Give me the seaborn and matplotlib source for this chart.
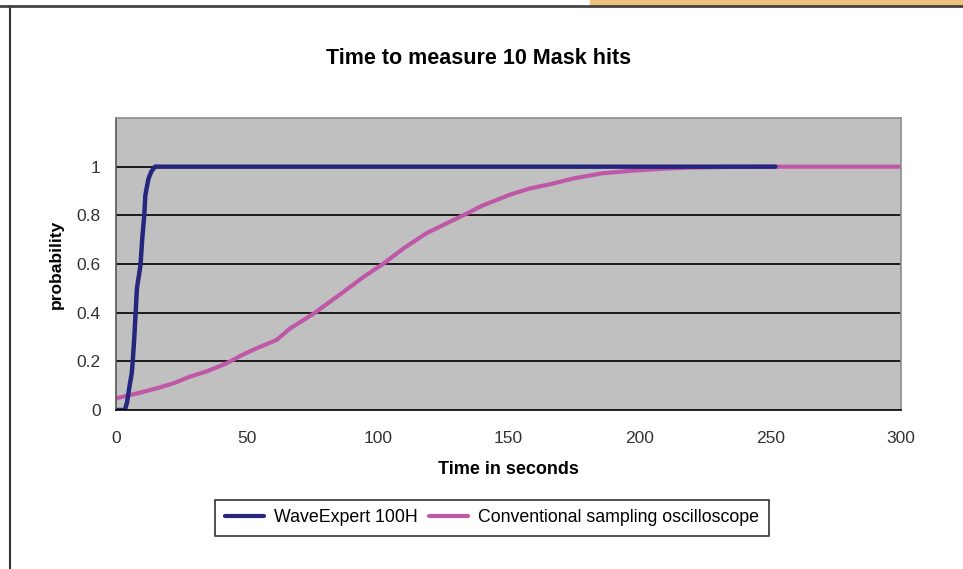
import numpy as np
import pandas as pd
import matplotlib.pyplot as plt
import matplotlib.patches as mpatches
import seaborn as sns

# data
wave_t = [0, 3.4, 4.2, 5.2, 6.0, 6.4, 7.0, 7.5, 8.0, 9.0, 9.4, 10.0, 10.8, 11.2, 11.5,
          12.4, 13.5, 14.9, 100, 200, 252]
wave_p = [0, 0, 0.03, 0.10, 0.15, 0.20, 0.30, 0.40, 0.50, 0.57, 0.60, 0.70, 0.80, 0.88, 0.90,
          0.95, 0.98, 1.0, 1.0, 1.0, 1.0]

conv_t = [0, 8, 15.5, 22, 28.3, 35, 42.3, 48, 53.8, 61.4, 66.5, 75.4, 85, 95, 102, 110,
          118.7, 125, 132.7, 140, 150.6, 158, 166, 175, 186, 199, 210, 219, 235, 250, 300]
conv_p = [0.048, 0.068, 0.089, 0.11, 0.137, 0.16, 0.192, 0.225, 0.254, 0.288, 0.335, 0.395,
          0.47, 0.55, 0.60, 0.665, 0.727, 0.76, 0.80, 0.84, 0.885, 0.91, 0.928, 0.952, 0.973,
          0.985, 0.992, 0.996, 0.999, 1.0, 1.0]

names = ['WaveExpert 100H', 'Conventional sampling oscilloscope']
colors = {'WaveExpert 100H': '#26267e', 'Conventional sampling oscilloscope': '#c058a8'}

df = pd.concat([
    pd.DataFrame({'t': wave_t, 'p': wave_p, 'series': names[0]}),
    pd.DataFrame({'t': conv_t, 'p': conv_p, 'series': names[1]}),
])

sns.set_style('white')
plt.rcParams['font.family'] = ['Liberation Sans', 'DejaVu Sans']
plt.rcParams['text.color'] = 'black'
plt.rcParams['axes.labelcolor'] = 'black'

fig = plt.figure(figsize=(9.63, 5.69), dpi=100)
ax = fig.add_axes([116 / 963, 1 - 410 / 569, (901 - 116) / 963, (410 - 118) / 569])
ax.set_facecolor('#c0c0c0')

# pink first, navy on top
sns.lineplot(data=df[df.series == names[1]], x='t', y='p', color=colors[names[1]],
             linewidth=3, sort=False, ax=ax, legend=False)
sns.lineplot(data=df[df.series == names[0]], x='t', y='p', color=colors[names[0]],
             linewidth=3.2, sort=False, ax=ax, legend=False)

ax.set_xlim(0, 300)
ax.set_ylim(0, 1.2)
ax.set_xticks([0, 50, 100, 150, 200, 250, 300])
ax.set_yticks([0, 0.2, 0.4, 0.6, 0.8, 1.0, 1.2])
ax.set_yticklabels(['0', '0.2', '0.4', '0.6', '0.8', '1', ''])
for yv in [0.2, 0.4, 0.6, 0.8, 1.0]:
    ax.axhline(yv, color='black', linewidth=1.2, zorder=0.5)
ax.tick_params(axis='both', direction='out', length=6, width=1, colors='black',
               labelsize=12.5, labelcolor='#333333')
ax.tick_params(axis='x', pad=9)
ax.tick_params(axis='y', pad=5)

for side in ['top', 'right']:
    ax.spines[side].set_color('#8c8c8c')
    ax.spines[side].set_linewidth(1.2)
ax.spines['left'].set_color('#555555')
ax.spines['bottom'].set_color('black')
ax.spines['left'].set_linewidth(1.2)
ax.spines['bottom'].set_linewidth(1.2)

ax.set_xlabel('Time in seconds', fontsize=13, fontweight='bold', labelpad=11)
ax.set_ylabel('probability', fontsize=12.5, fontweight='bold', labelpad=9)
fig.text(479 / 963, 1 - 58 / 569, 'Time to measure 10 Mask hits', ha='center', va='center',
         fontsize=15.5, fontweight='bold', color='black')

handles = [plt.Line2D([], [], color=colors[n], linewidth=3) for n in names]
leg = fig.legend(handles, names, loc='center', bbox_to_anchor=(492 / 963, 1 - 518 / 569),
                 ncol=2, frameon=True, fontsize=12.8, handlelength=2.2, columnspacing=0.6,
                 handletextpad=0.6, borderpad=0.55, fancybox=False)
leg.get_frame().set_edgecolor('black')
leg.get_frame().set_linewidth(1.2)

# page frame and decoration strip
fig.add_artist(plt.Line2D([10 / 963, 10 / 963], [0, 1 - 6 / 569], color='#333333', linewidth=1.5))
fig.add_artist(plt.Line2D([0, 1], [1 - 6 / 569, 1 - 6 / 569], color='#444444', linewidth=2))
fig.patches.append(mpatches.Rectangle((590 / 963, 1 - 5 / 569), 373 / 963, 5 / 569,
                                      transform=fig.transFigure, color='#efc27c', zorder=0))

fig.savefig('out.png', dpi=100)
